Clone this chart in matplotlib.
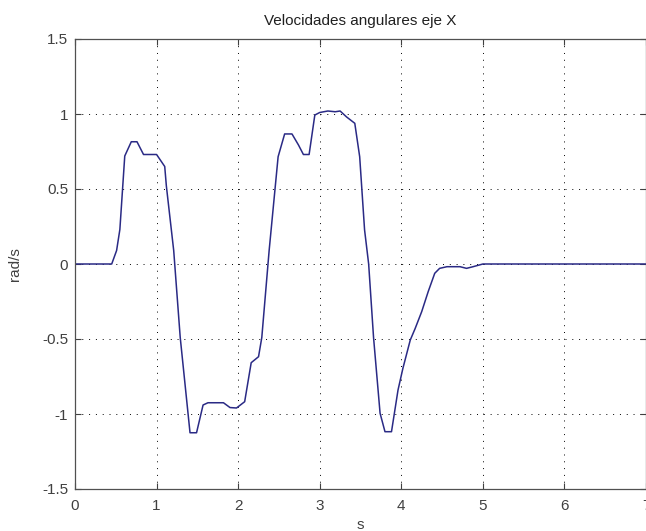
import matplotlib
matplotlib.use("Agg")
import matplotlib.pyplot as plt

# Angular velocity about the X axis (rad/s) over time (s)
t = [0.0, 0.45, 0.51, 0.55, 0.61, 0.69, 0.76, 0.84, 1.00, 1.10, 1.12,
     1.21, 1.29, 1.41, 1.49, 1.57, 1.63, 1.82, 1.90, 1.98, 2.08, 2.16,
     2.25, 2.29, 2.38, 2.49, 2.57, 2.66, 2.74, 2.80, 2.87, 2.94, 3.00,
     3.10, 3.19, 3.25, 3.33, 3.43, 3.49, 3.55, 3.60, 3.66, 3.74, 3.80,
     3.88, 3.96, 4.02, 4.11, 4.17, 4.25, 4.33, 4.41, 4.47, 4.56, 4.72,
     4.80, 4.88, 5.00, 7.00]
wx = [0.0, 0.0, 0.09, 0.23, 0.72, 0.815, 0.815, 0.73, 0.73, 0.65, 0.52,
      0.09, -0.49, -1.125, -1.125, -0.94, -0.925, -0.925, -0.957, -0.96, -0.918, -0.658,
      -0.618, -0.49, 0.09, 0.715, 0.867, 0.867, 0.793, 0.73, 0.73, 0.993, 1.01,
      1.02, 1.015, 1.02, 0.98, 0.938, 0.715, 0.227, 0.0, -0.49, -0.995, -1.118,
      -1.118, -0.84, -0.695, -0.507, -0.43, -0.318, -0.184, -0.062, -0.029, -0.018, -0.018,
      -0.029, -0.018, 0.0, 0.0]

x_ticks = [0, 1, 2, 3, 4, 5, 6, 7]
y_ticks = [-1.5, -1, -0.5, 0, 0.5, 1, 1.5]
y_tick_labels = ["-1.5", "-1", "-0.5", "0", "0.5", "1", "1.5"]

plt.rcParams["font.family"] = ["Liberation Sans", "DejaVu Sans"]

fig = plt.figure(figsize=(6.46, 5.31), dpi=100)
ax = fig.add_axes([75 / 646, 42 / 531, 571 / 646, 450 / 531])

ax.plot(t, wx, color="#2a2a85", linewidth=1.1)

ax.set_xlim(0, 7)
ax.set_ylim(-1.5, 1.5)
ax.set_xticks(x_ticks)
ax.set_yticks(y_ticks)
ax.set_yticklabels(y_tick_labels)

ax.grid(True, color="black", linestyle=(0, (1, 6)), linewidth=0.7)
ax.tick_params(direction="in", length=4, width=0.8, colors="#404040",
               labelcolor="#404040", labelsize=11, top=True, right=True, pad=5)
ax.tick_params(axis="x", pad=7)
for s in ax.spines.values():
    s.set_color("#505050")
    s.set_linewidth(0.9)

ax.set_title("Velocidades angulares eje X", fontsize=11, color="#202020", pad=10)
ax.set_xlabel("s", fontsize=11, color="#404040", labelpad=4)
ax.set_ylabel("rad/s", fontsize=11, color="#404040", labelpad=14)

fig.savefig("out.png", dpi=100)
